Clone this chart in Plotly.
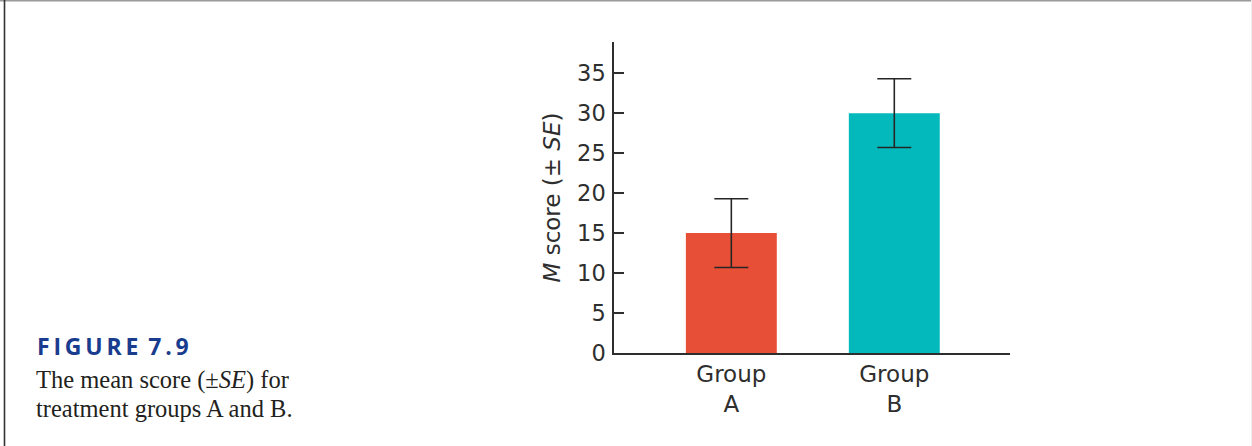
import plotly.graph_objects as go

# ---- data ----
groups = ["Group<br>A", "Group<br>B"]
means = [15.0, 30.0]
se = [4.3, 4.3]
bar_colors = ["#E84F37", "#04B9BC"]
y_ticks = [0, 5, 10, 15, 20, 25, 30, 35]
caption_title = "F\u2009I\u2009G\u2009U\u2009R\u2009E\u2009 7\u2009.\u20099"
caption_lines = ["The mean score (±<i>SE</i>) for", "treatment groups A and B."]

W, H = 1252, 446
L, R, T, B = 614, 242, 42, 93
pw, ph = W - L - R, H - T - B

def px_x(px):
    return (px - L) / pw

def px_y(py):
    return (H - B - py) / ph

axis_col = "#2e2e2e"
font_main = "DejaVu Sans"

fig = go.Figure()
fig.add_trace(go.Bar(
    x=groups, y=means,
    marker=dict(color=bar_colors, line=dict(width=0)),
    width=0.558,
    error_y=dict(type="data", array=se, visible=True, color="#262626",
                 thickness=1.6, width=17),
))

fig.update_layout(
    width=W, height=H, autosize=False,
    margin=dict(l=L, r=R, t=T, b=B, pad=0),
    paper_bgcolor="white", plot_bgcolor="white",
    showlegend=False,
    font=dict(family=font_main, color=axis_col, size=22),
    xaxis=dict(range=[-0.72, 1.71], showline=True, linecolor=axis_col, linewidth=1.5,
               ticks="", showgrid=False, zeroline=False,
               tickfont=dict(size=23, color=axis_col, family=font_main)),
    yaxis=dict(range=[0, 38.9], showline=True, linecolor=axis_col, linewidth=1.5,
               ticks="inside", ticklen=10, tickwidth=1.5, tickcolor=axis_col,
               tickvals=y_ticks, showgrid=False, zeroline=False,
               ticklabelstandoff=2,
               tickfont=dict(size=22.5, color=axis_col, family=font_main),
               title=dict(text="<i>M</i> score (± <i>SE</i>)", standoff=10,
                          font=dict(size=23, color=axis_col, family=font_main))),
)

# frame lines
fig.add_shape(type="line", xref="paper", yref="paper",
              x0=px_x(0), x1=px_x(W), y0=px_y(0.8), y1=px_y(0.8),
              line=dict(color="#9a9a9a", width=1.6))
fig.add_shape(type="line", xref="paper", yref="paper",
              x0=px_x(4.5), x1=px_x(4.5), y0=px_y(0), y1=px_y(H),
              line=dict(color="#333333", width=1.6))
fig.add_shape(type="line", xref="paper", yref="paper",
              x0=px_x(W - 0.5), x1=px_x(W - 0.5), y0=px_y(0), y1=px_y(H),
              line=dict(color="#eeeeee", width=1))

# caption
fig.add_annotation(xref="paper", yref="paper", x=px_x(35), y=px_y(346),
                   xanchor="left", yanchor="middle", showarrow=False,
                   text="<b>" + caption_title + "</b>",
                   font=dict(family="Open Sans", size=23, color="#1a3c8e"))
for i, line in enumerate(caption_lines):
    fig.add_annotation(xref="paper", yref="paper", x=px_x(34), y=px_y(380 + 28 * i),
                       xanchor="left", yanchor="middle", showarrow=False,
                       text=line,
                       font=dict(family="Liberation Serif", size=24.5, color="#231f20"))

fig.write_html("out.html", config={"displayModeBar": False},
               post_script="document.body.style.margin='0';")
